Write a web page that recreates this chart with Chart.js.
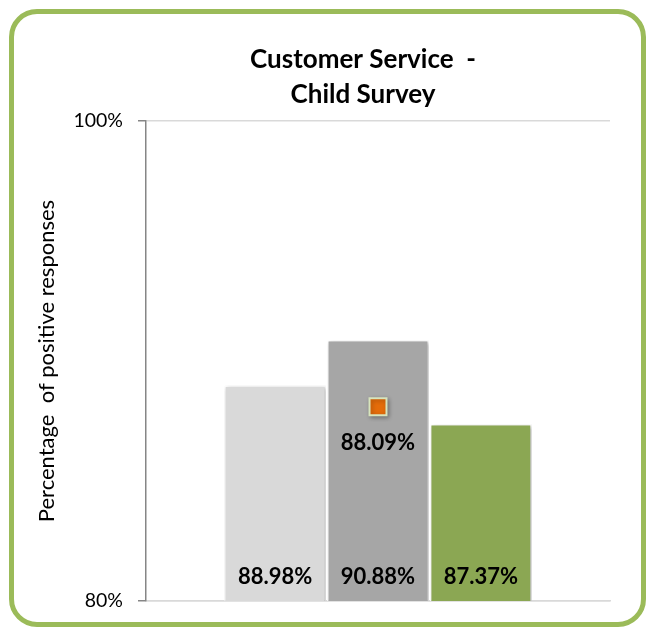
<!DOCTYPE html>
<html>
<head>
<meta charset="utf-8">
<script src="https://cdn.jsdelivr.net/npm/chart.js@4.4.0/dist/chart.umd.min.js"></script>
<style>
  body { margin: 0; background: #fff; }
  #wrap { position: relative; width: 650px; height: 631px; }
  #frame {
    position: absolute; left: 9px; top: 9px; width: 637px; height: 618px;
    box-sizing: border-box; border: 5px solid #9BBB59; border-radius: 28px;
    pointer-events: none;
  }
</style>
</head>
<body>
<div id="wrap">
  <canvas id="grafico" width="650" height="631"></canvas>
  <div id="frame"></div>
</div>
<script>
const categorias = ["Customer Service"];
const nomesSeries = ["Série 1", "Série 2", "Série 3"];
const valoresBarras = [88.98, 90.88, 87.37];
const valorMarcador = [88.09];
const ticksY = [80, 100];

const coresBarras = ["#D9D9D9", "#A6A6A6", "#8BA753"];
const fonte = "Lato, 'Open Sans', sans-serif";

// rótulos dentro das barras e abaixo do marcador
const rotulos = {
  id: "rotulos",
  afterDatasetsDraw(chart) {
    const ctx = chart.ctx;
    const y = chart.scales.y;
    ctx.save();
    ctx.fillStyle = "#000";
    ctx.font = "bold 22px " + fonte;
    ctx.textAlign = "center";
    ctx.textBaseline = "middle";
    valoresBarras.forEach((v, i) => {
      const barra = chart.getDatasetMeta(i).data[0];
      ctx.fillText(v.toFixed(2) + "%", barra.x, y.getPixelForValue(80) - 24);
    });
    const ponto = chart.getDatasetMeta(3).data[0];
    ctx.fillText(valorMarcador[0].toFixed(2) + "%", ponto.x, ponto.y + 36);
    ctx.restore();
  },
};

// título em duas linhas
const titulo = {
  id: "titulo",
  afterDraw(chart) {
    const ctx = chart.ctx;
    ctx.save();
    ctx.fillStyle = "#000";
    ctx.font = "bold 26px " + fonte;
    ctx.textAlign = "center";
    ctx.textBaseline = "middle";
    ctx.fillText("Customer Service  -", 363, 60);
    ctx.fillText("Child Survey", 363, 95);
    ctx.restore();
  },
};

// sombra leve nas barras e no marcador
const sombra = {
  id: "sombra",
  beforeDatasetsDraw(chart) {
    const ctx = chart.ctx;
    ctx.save();
    ctx.shadowColor = "rgba(0,0,0,0.28)";
    ctx.shadowBlur = 4;
    ctx.shadowOffsetX = 1.5;
    ctx.shadowOffsetY = 1.5;
  },
  afterDatasetsDraw(chart) {
    chart.ctx.restore();
  },
};

const datasetsBarras = valoresBarras.map((v, i) => ({
  type: "bar",
  label: nomesSeries[i],
  data: [v],
  backgroundColor: coresBarras[i],
  borderColor: "#ffffff",
  borderWidth: 1.5,
  categoryPercentage: 0.665,
  barPercentage: 0.99,
  order: 2,
}));

new Chart(document.getElementById("grafico"), {
  data: {
    labels: categorias,
    datasets: [
      ...datasetsBarras,
      {
        type: "line",
        label: "Marcador",
        data: valorMarcador,
        showLine: false,
        pointStyle: "rect",
        pointRadius: 12,
        pointBackgroundColor: "#E46C0A",
        pointBorderColor: "#D7E4BD",
        pointBorderWidth: 2,
        order: 1,
      },
    ],
  },
  options: {
    responsive: false,
    animation: false,
    layout: { padding: { left: 0, right: 40, top: 121, bottom: 30 } },
    plugins: {
      legend: { display: false },
      tooltip: { enabled: false },
    },
    scales: {
      x: {
        ticks: { display: false },
        grid: { display: false },
        border: { display: true, color: "#D9D9D9", width: 1.5 },
        afterFit(s) { s.height = 0; },
      },
      y: {
        min: ticksY[0],
        max: ticksY[1],
        afterBuildTicks(s) { s.ticks = ticksY.map((v) => ({ value: v })); },
        ticks: {
          padding: 15,
          color: "#000",
          font: { family: fonte, size: 19.5 },
          callback: (v) => v + "%",
        },
        grid: { color: "#D9D9D9", tickColor: "#868686", tickLength: 8, lineWidth: 1.5 },
        border: { color: "#868686", width: 1.5 },
        title: {
          display: true,
          text: "Percentage  of positive responses",
          color: "#000",
          font: { family: fonte, size: 22 },
          padding: { top: 34, bottom: 0 },
        },
        afterFit(s) { s.width = 146; },
      },
    },
  },
  plugins: [sombra, rotulos, titulo],
});
</script>
</body>
</html>
